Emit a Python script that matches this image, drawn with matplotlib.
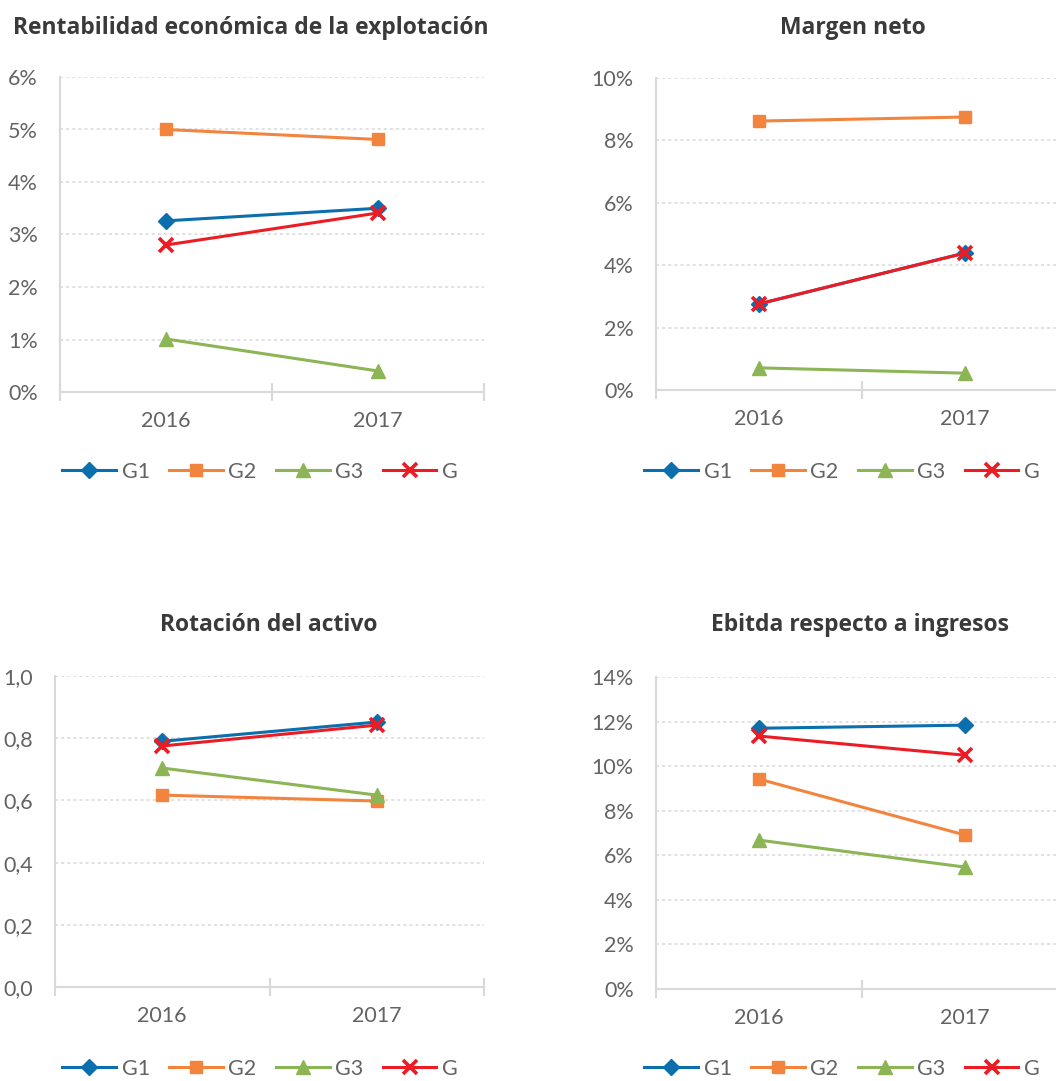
import matplotlib
matplotlib.use('Agg')
import matplotlib.pyplot as plt
from matplotlib.ticker import FuncFormatter, FixedLocator

plt.rcParams['font.family'] = ['Lato', 'DejaVu Sans']

# datos
anios = ['2016', '2017']
series = ['G1', 'G2', 'G3', 'G']

# Rentabilidad economica de la explotacion (%)
rent_g1 = [3.26, 3.50]
rent_g2 = [5.00, 4.81]
rent_g3 = [1.01, 0.40]
rent_g = [2.80, 3.41]

# Margen neto (%)
marg_g1 = [2.76, 4.39]
marg_g2 = [8.62, 8.75]
marg_g3 = [0.71, 0.54]
marg_g = [2.76, 4.39]

# Rotacion del activo
rot_g1 = [0.790, 0.852]
rot_g2 = [0.617, 0.598]
rot_g3 = [0.704, 0.617]
rot_g = [0.775, 0.842]

# Ebitda respecto a ingresos (%)
ebi_g1 = [11.70, 11.84]
ebi_g2 = [9.42, 6.91]
ebi_g3 = [6.68, 5.47]
ebi_g = [11.35, 10.49]

titulos = ['Rentabilidad económica de la explotación', 'Margen neto',
           'Rotación del activo', 'Ebitda respecto a ingresos']

colores = {'G1': '#0b6fae', 'G2': '#f3843e', 'G3': '#8cb556', 'G': '#ec1c24'}
marcas = {'G1': dict(marker='D', markersize=8),
          'G2': dict(marker='s', markersize=9),
          'G3': dict(marker='^', markersize=10),
          'G': dict(marker='x', markersize=10, markeredgewidth=2.6)}

W, H = 1056, 1081
fig = plt.figure(figsize=(W / 100, H / 100), dpi=100)


def px(x0, y0, x1, y1):
    # caja en pixeles -> coordenadas de figura
    return [x0 / W, 1 - y1 / H, (x1 - x0) / W, (y1 - y0) / H]


paneles = [
    dict(box=px(60, 77, 484, 392), datos=[rent_g1, rent_g2, rent_g3, rent_g],
         ymax=6, paso=1, fmt=lambda v, p: '%d%%' % round(v),
         titulo=(251, 28), leyenda=(260, 472)),
    dict(box=px(656, 78, 1068, 390), datos=[marg_g1, marg_g2, marg_g3, marg_g],
         ymax=10, paso=2, fmt=lambda v, p: '%d%%' % round(v),
         titulo=(853, 28), leyenda=(842, 472)),
    dict(box=px(55, 676, 484, 987), datos=[rot_g1, rot_g2, rot_g3, rot_g],
         ymax=1.0, paso=0.2, fmt=lambda v, p: ('%.1f' % v).replace('.', ','),
         titulo=(269, 625), leyenda=(260, 1069)),
    dict(box=px(656, 677, 1068, 989), datos=[ebi_g1, ebi_g2, ebi_g3, ebi_g],
         ymax=14, paso=2, fmt=lambda v, p: '%d%%' % round(v),
         titulo=(860, 625), leyenda=(842, 1069)),
]

gris = '#d9d9d9'
texto = '#636363'

for i, p in enumerate(paneles):
    ax = fig.add_axes(p['box'])
    lineas = []
    for nombre, vals in zip(series, p['datos']):
        l, = ax.plot([0, 1], vals, color=colores[nombre], linewidth=2.2,
                     label=nombre, clip_on=False, **marcas[nombre])
        lineas.append(l)
    ax.set_xlim(-0.5, 1.5)
    ax.set_ylim(0, p['ymax'])
    n = int(round(p['ymax'] / p['paso']))
    ax.yaxis.set_major_locator(FixedLocator([k * p['paso'] for k in range(n + 1)]))
    ax.yaxis.set_major_formatter(FuncFormatter(p['fmt']))
    ax.set_xticks([0, 1])
    ax.set_xticklabels(anios)
    ax.xaxis.set_minor_locator(FixedLocator([-0.5, 0.5, 1.5]))
    ax.tick_params(axis='x', which='major', length=0, pad=14, labelsize=15.5, labelcolor=texto)
    ax.tick_params(axis='x', which='minor', length=13, direction='inout', width=1.5, color=gris)
    ax.tick_params(axis='y', length=0, pad=16, labelsize=15.5, labelcolor=texto)
    ax.grid(axis='y', color=gris, linestyle=(0, (2, 2)), linewidth=1.1)
    ax.set_axisbelow(True)
    for s in ['top', 'right']:
        ax.spines[s].set_visible(False)
    for s in ['left', 'bottom']:
        ax.spines[s].set_color(gris)
        ax.spines[s].set_linewidth(1.5)
    ax.set_facecolor('none')

    tx, ty = p['titulo']
    fig.text(tx / W, 1 - ty / H, titulos[i], ha='center', va='center',
             fontsize=16.5, fontweight='bold', color='#3a3a3a',
             family=['Open Sans', 'DejaVu Sans'])

    lx, ly = p['leyenda']
    fig.legend(lineas, series, loc='center', bbox_to_anchor=(lx / W, 1 - ly / H),
               ncol=4, frameon=False, fontsize=15.5, handlelength=2.5,
               handletextpad=0.25, columnspacing=0.9, labelcolor=texto)

fig.savefig('out.png', dpi=100, facecolor='white')
